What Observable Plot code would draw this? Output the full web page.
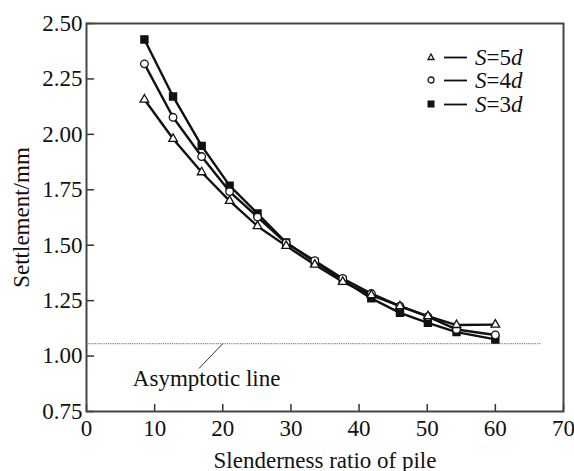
<!DOCTYPE html>
<html>
<head>
<meta charset="utf-8">
<script src="https://cdn.jsdelivr.net/npm/d3@7"></script>
<script src="https://cdn.jsdelivr.net/npm/@observablehq/plot@0.6"></script>
<style>
  html, body { margin: 0; padding: 0; background: #fff; }
  #wrap { position: relative; width: 574px; height: 471px; font-family: "Liberation Serif", "Times New Roman", serif; }
  #legend { position: absolute; left: 426px; top: 46px; font-size: 23px; color: #111; }
  #legend .row { display: flex; align-items: center; height: 23.5px; }
  #legend .row svg { display: block; }
  #legend .lab { margin-left: 7px; }
  #legend i { font-style: italic; }
</style>
</head>
<body>
<div id="wrap"><div id="chart"></div><div id="legend"></div></div>
<script>
const slenderness = [8.5, 12.7, 16.9, 21.0, 25.1, 29.3, 33.5, 37.6, 41.8, 46.0, 50.1, 54.3, 60.0];
const settleS5 = [2.157, 1.980, 1.829, 1.700, 1.586, 1.497, 1.412, 1.335, 1.275, 1.225, 1.180, 1.140, 1.142];
const settleS4 = [2.318, 2.077, 1.900, 1.742, 1.627, 1.510, 1.430, 1.350, 1.282, 1.225, 1.178, 1.120, 1.095];
const settleS3 = [2.428, 2.171, 1.948, 1.769, 1.643, 1.512, 1.425, 1.343, 1.260, 1.195, 1.150, 1.108, 1.075];
const seriesNames = ["S=5d", "S=4d", "S=3d"];
const seriesSymbols = ["triangle", "circle", "square"];
const xTicks = [0, 10, 20, 30, 40, 50, 60, 70];
const yTicks = [0.75, 1.00, 1.25, 1.50, 1.75, 2.00, 2.25, 2.50];
const asymptoteValue = 1.056;
const asymptoteExtent = [0, 66.8];
const leaderX = [16.5, 20.0];
const leaderY = [0.944, 1.056];
const labelPos = [6.8, 0.866];

const allSeries = [settleS5, settleS4, settleS3];
const rows = [];
allSeries.forEach((vals, si) => {
  vals.forEach((v, i) => rows.push({series: seriesNames[si], symbol: seriesSymbols[si], x: slenderness[i], y: v}));
});
const drawOrder = ["S=3d", "S=4d", "S=5d"];

const font = '"Liberation Serif", "Times New Roman", serif';
const marks = [
  Plot.ruleY([asymptoteValue], {x1: asymptoteExtent[0], x2: asymptoteExtent[1], stroke: "#888", strokeWidth: 1.2, strokeDasharray: "1.2,1"}),
  Plot.link([{}], {x1: leaderX[0], y1: leaderY[0], x2: leaderX[1], y2: leaderY[1], stroke: "#333", strokeWidth: 1}),
  Plot.text(["Asymptotic line"], {x: labelPos[0], y: labelPos[1], text: d => d, textAnchor: "start", lineAnchor: "bottom", fontSize: 23, fill: "#111"})
];
drawOrder.forEach(name => {
  marks.push(Plot.line(rows.filter(r => r.series === name), {x: "x", y: "y", stroke: "#111", strokeWidth: 2.4}));
});
drawOrder.forEach(name => {
  const sym = seriesSymbols[seriesNames.indexOf(name)];
  const filled = sym === "square";
  marks.push(Plot.dot(rows.filter(r => r.series === name), {
    x: "x", y: "y", symbol: sym,
    r: sym === "triangle" ? 3.2 : sym === "circle" ? 3.8 : 4.0,
    fill: filled ? "#111" : "#fff", stroke: "#111", strokeWidth: 1.3
  }));
});
marks.push(
  Plot.axisX({ticks: xTicks, tickSize: 0, tickPadding: 8, fontSize: 23, label: "Slenderness ratio of pile", labelAnchor: "center", labelArrow: "none", labelOffset: 56}),
  Plot.axisX({ticks: xTicks, tickSize: -7, text: null, label: null, stroke: "#333", strokeWidth: 1.5}),
  Plot.axisY({ticks: yTicks, tickSize: 0, tickPadding: 4, tickFormat: d3.format(".2f"), fontSize: 23, label: "Settlement/mm", labelAnchor: "center", labelArrow: "none", labelOffset: 74}),
  Plot.axisY({ticks: yTicks, tickSize: -8, text: null, label: null, stroke: "#333", strokeWidth: 1.5}),
  Plot.frame({stroke: "#444", strokeWidth: 2})
);

const chart = Plot.plot({
  width: 574,
  height: 471,
  marginLeft: 86,
  marginRight: 11,
  marginTop: 23,
  marginBottom: 60,
  style: {fontFamily: font, fontSize: "23px", color: "#111", background: "#fff"},
  x: {domain: [0, 70]},
  y: {domain: [0.75, 2.5]},
  marks
});
document.getElementById("chart").appendChild(chart);

// legend
const legend = document.getElementById("legend");
const legendOrder = ["S=5d", "S=4d", "S=3d"];
legendOrder.forEach(name => {
  const sym = seriesSymbols[seriesNames.indexOf(name)];
  let shape;
  if (sym === "triangle") shape = '<path d="M5,2 L8,7.5 L2,7.5 Z" fill="#fff" stroke="#111" stroke-width="1.3"/>';
  else if (sym === "circle") shape = '<circle cx="5" cy="5" r="3" fill="#fff" stroke="#111" stroke-width="1.3"/>';
  else shape = '<rect x="1.5" y="1.5" width="7" height="7" fill="#111"/>';
  const parts = name.match(/^(S)(=\d)(d)$/);
  const row = document.createElement("div");
  row.className = "row";
  row.innerHTML = `<svg width="42" height="12">${shape}<line x1="18" y1="5.5" x2="41" y2="5.5" stroke="#111" stroke-width="1.8"/></svg><span class="lab"><i>${parts[1]}</i>${parts[2]}<i>${parts[3]}</i></span>`;
  legend.appendChild(row);
});
</script>
</body>
</html>
